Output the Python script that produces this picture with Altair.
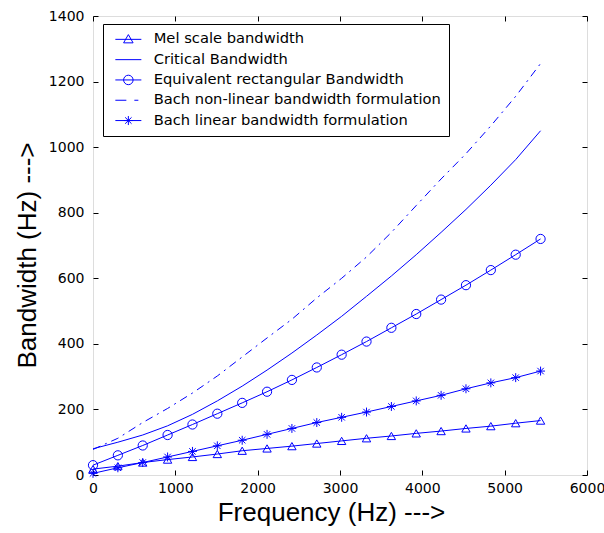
import altair as alt
import pandas as pd

freq = [0, 302, 604, 906, 1208, 1510, 1812, 2114, 2416, 2718, 3020, 3322, 3624, 3926, 4228, 4530, 4832, 5134, 5436]
mel = [18, 27, 38, 47, 55, 64, 74, 81, 88, 96, 104, 112, 119, 127, 134, 142, 149, 158, 166]
critical = [80, 100, 122, 150, 185, 226, 271, 320, 372, 427, 484, 545, 607, 672, 740, 810, 884, 962, 1050]
erb = [30, 60, 90, 122, 154, 187, 220, 254, 290, 328, 367, 407, 449, 491, 535, 579, 625, 672, 720]
bach_nl = [78, 112, 160, 203, 250, 302, 360, 418, 475, 540, 600, 665, 740, 822, 903, 980, 1065, 1155, 1255]
bach_lin = [5, 22, 38, 55, 72, 89, 106, 124, 142, 160, 176, 192, 209, 226, 243, 263, 281, 297, 317]

names = [
    "Mel scale bandwidth",
    "Critical Bandwidth",
    "Equivalent rectangular Bandwidth",
    "Bach non-linear bandwidth formulation",
    "Bach linear bandwidth formulation",
]
series = [mel, critical, erb, bach_nl, bach_lin]

rows = []
for name, vals in zip(names, series):
    for f, v in zip(freq, vals):
        rows.append({"freq": f, "bw": v, "series": name})
df = pd.DataFrame(rows)

BLUE = "#0000ff"
FONT = "DejaVu Sans"
TFONT = "Liberation Sans"

star_path = "M0,-1L0,1M-1,0L1,0M-0.72,-0.72L0.72,0.72M-0.72,0.72L0.72,-0.72"
legend_paths = [
    "M-2.6,0L2.6,0M0,-0.95L0.95,0.7L-0.95,0.7Z",
    "M-2.6,0L2.6,0",
    "M-2.6,0L2.6,0M0.95,0A0.95,0.95,0,1,1,-0.95,0A0.95,0.95,0,1,1,0.95,0",
    "M-2.6,0L-0.4,0M1.2,0L2.0,0",
    "M-2.6,0L2.6,0M0,-0.9L0,0.9M-0.9,0L0.9,0M-0.64,-0.64L0.64,0.64M-0.64,0.64L0.64,-0.64",
]

xscale = alt.Scale(domain=[0, 6000], nice=False, zero=False)
yscale = alt.Scale(domain=[0, 1400], nice=False, zero=False)
xticks = [0, 1000, 2000, 3000, 4000, 5000, 6000]
yticks = [0, 200, 400, 600, 800, 1000, 1200, 1400]

common = dict(tickSize=5, offset=-5, domain=False, grid=False, tickColor="black",
              tickWidth=1, labelFont=FONT, labelFontSize=14, labelColor="black",
              format="d", titleFont=TFONT, titleFontSize=26, titleFontWeight="normal",
              titleColor="black", ticks=True, labelFlush=False, labelOverlap=False)

base = alt.Chart(df)

x_main = alt.X("freq:Q", scale=xscale, axis=alt.Axis(
    orient="bottom", values=xticks, labelPadding=6,
    title="Frequency (Hz) --->", titlePadding=4, titleX=238, **common))
y_main = alt.Y("bw:Q", scale=yscale, axis=alt.Axis(
    orient="left", values=yticks, labelPadding=9,
    title="Bandwidth (Hz) --->", titlePadding=8, titleY=239, **common))
x_top = alt.X("freq:Q", scale=xscale, axis=alt.Axis(
    orient="top", values=xticks, labels=False, title=None, **common))
y_right = alt.Y("bw:Q", scale=yscale, axis=alt.Axis(
    orient="right", values=yticks, labels=False, title=None, **common))
x_none = alt.X("freq:Q", scale=xscale, axis=None)
y_none = alt.Y("bw:Q", scale=yscale, axis=None)

solid = base.transform_filter(
    alt.FieldOneOfPredicate(field="series", oneOf=[names[0], names[1], names[2], names[4]])
).mark_line(color=BLUE, strokeWidth=1).encode(x=x_main, y=y_main, detail="series:N")

dashdot = base.transform_filter(alt.datum.series == names[3]).mark_line(
    color=BLUE, strokeWidth=1, strokeDash=[8, 5, 2, 5]
).encode(x=x_top, y=y_right)

tri = base.transform_filter(alt.datum.series == names[0]).mark_point(
    shape="triangle-up", size=70, color=BLUE, filled=False, strokeWidth=1, opacity=1
).encode(x=x_none, y=y_none)

circ = base.transform_filter(alt.datum.series == names[2]).mark_point(
    shape="circle", size=85, color=BLUE, filled=False, strokeWidth=1, opacity=1
).encode(x=x_none, y=y_none)

star = base.transform_filter(alt.datum.series == names[4]).mark_point(
    shape=star_path, size=80, color=BLUE, filled=False, strokeWidth=1, opacity=1
).encode(x=x_none, y=y_none)

legend_layer = base.mark_point(opacity=0, filled=False, color=BLUE).encode(
    x=x_none, y=y_none,
    shape=alt.Shape("series:N", scale=alt.Scale(domain=names, range=legend_paths),
        legend=alt.Legend(
            title=None, orient="none", legendX=10, legendY=8,
            symbolSize=100, symbolOpacity=1, symbolStrokeColor=BLUE,
            symbolStrokeWidth=1, symbolFillColor="transparent",
            labelFont=FONT, labelFontSize=14.7, labelColor="black",
            labelLimit=400, labelOffset=18, symbolOffset=10,
            rowPadding=4.3, padding=8, strokeColor="black",
            fillColor="white", cornerRadius=0,
        )),
)

chart = alt.layer(solid, dashdot, tri, circ, star, legend_layer).properties(
    width=494, height=459,
    autosize=alt.AutoSizeParams(type="none"),
    padding={"left": 93, "top": 16, "right": 17, "bottom": 58},
).configure_view(stroke="black", strokeWidth=1).configure(background="white")

chart.save("out.html", embed_options={"renderer": "svg", "actions": False})
